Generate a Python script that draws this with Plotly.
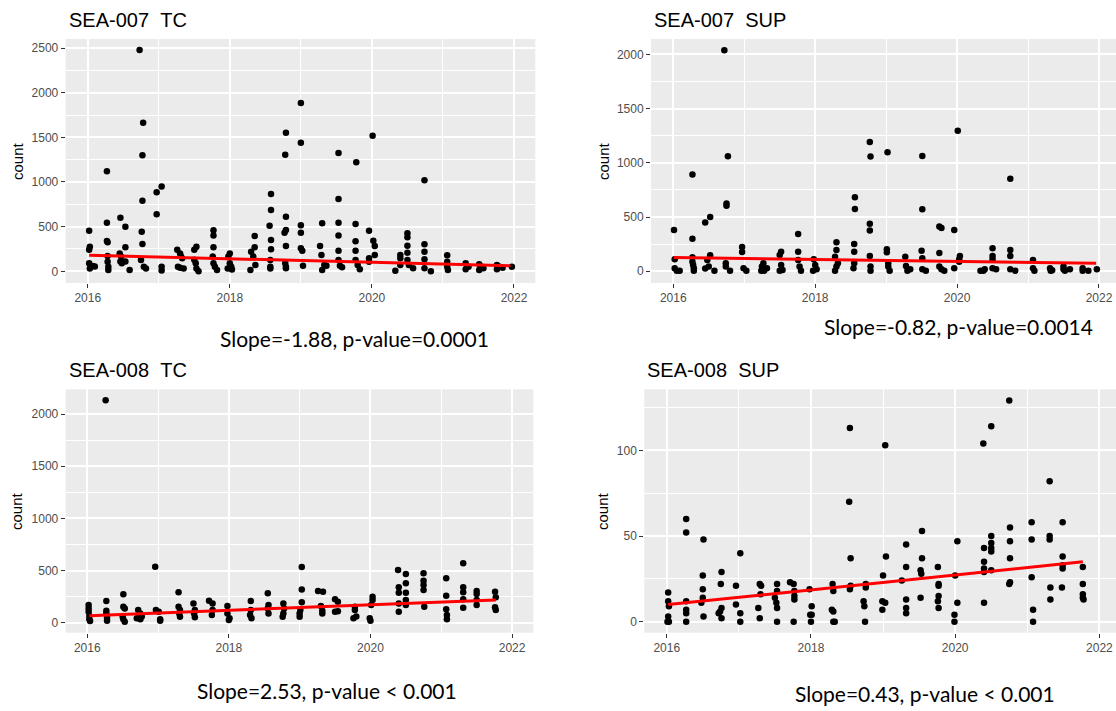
import plotly.graph_objects as go

W, H = 1116, 711

# ---------------- data ----------------
# SEA-007 TC
tc007_x = [2016.02, 2016.03, 2016.02, 2016.02, 2016.03, 2016.10, 2016.07,
           2016.27, 2016.27, 2016.27, 2016.28, 2016.28, 2016.28, 2016.29, 2016.29,
           2016.46, 2016.45, 2016.47, 2016.46, 2016.48, 2016.53, 2016.53, 2016.53, 2016.59,
           2016.73, 2016.78, 2016.77, 2016.77, 2016.76, 2016.77, 2016.75, 2016.79, 2016.82,
           2016.97, 2017.04, 2016.97, 2017.04, 2017.04,
           2017.26, 2017.30, 2017.33, 2017.27, 2017.30, 2017.35, 2017.31,
           2017.50, 2017.53, 2017.52, 2017.53, 2017.56, 2017.50,
           2017.77, 2017.77, 2017.77, 2017.76, 2017.77, 2017.79, 2017.82,
           2018.00, 2017.98, 2018.00, 2018.02, 2017.97, 2018.03,
           2018.35, 2018.35, 2018.30, 2018.33, 2018.36, 2018.29,
           2018.58, 2018.58, 2018.56, 2018.58, 2018.58, 2018.57, 2018.57, 2018.57,
           2018.79, 2018.78, 2018.79, 2018.79, 2018.77, 2018.79, 2018.78, 2018.79, 2018.79,
           2019.00, 2019.00, 2019.00, 2019.00, 2019.00, 2019.02, 2019.03,
           2019.27, 2019.30, 2019.29, 2019.33, 2019.30, 2019.36,
           2019.53, 2019.53, 2019.53, 2019.53, 2019.53, 2019.53, 2019.55, 2019.58,
           2019.78, 2019.77, 2019.77, 2019.77, 2019.77, 2019.80, 2019.83,
           2020.01, 2019.96, 2020.02, 2020.04, 2020.04, 2019.96, 2019.96,
           2020.33, 2020.40, 2020.40, 2020.40,
           2020.50, 2020.50, 2020.50, 2020.50, 2020.50, 2020.52, 2020.58,
           2020.74, 2020.74, 2020.74, 2020.74, 2020.74, 2020.83,
           2021.06, 2021.06, 2021.06, 2021.07,
           2021.32, 2021.34, 2021.32, 2021.36,
           2021.51, 2021.55, 2021.51, 2021.57,
           2021.76, 2021.80, 2021.76, 2021.84,
           2021.97]
tc007_y = [455, 276, 240, 90, 30, 55, 60,
           1120, 545, 340, 325, 170, 108, 52, 15,
           600, 200, 165, 110, 90, 500, 270, 110, 15,
           2477, 1664, 1298, 790, 444, 305, 127, 52, 30,
           884, 950, 640, 52, 10,
           240, 200, 145, 52, 40, 30, 170,
           240, 275, 90, 30, 0, 130,
           460, 400, 270, 165, 90, 52, 15,
           200, 165, 90, 52, 30, 20,
           395, 270, 220, 165, 70, 15,
           865, 686, 511, 350, 246, 127, 52, 30,
           1552, 1306, 612, 463, 432, 283, 90, 52, 34,
           1884, 1440, 515, 433, 257, 231, 63,
           283, 537, 183, 70, 15, 63,
           1325, 810, 545, 400, 231, 127, 63, 45,
           1220, 530, 336, 231, 127, 70, 22,
           1518, 455, 343, 283, 183, 145, 108,
           7, 183, 145, 70,
           425, 380, 287, 209, 127, 70, 34,
           1019, 302, 220, 134, 34, 0,
           179, 108, 52, 15,
           90, 52, 22, 50,
           78, 52, 15, 34,
           70, 52, 22, 40,
           52]
tc007_fit_x = [2016.02, 2021.95]
tc007_fit_y = [179, 63]

# SEA-007 SUP
sup007_x = [2016.01, 2016.02, 2016.02, 2016.09, 2016.05,
            2016.27, 2016.27, 2016.27, 2016.27, 2016.28, 2016.29, 2016.29,
            2016.45, 2016.52, 2016.52, 2016.48, 2016.50, 2016.45, 2016.58,
            2016.72, 2016.77, 2016.75, 2016.75, 2016.74, 2016.74, 2016.80,
            2016.97, 2016.97, 2016.99, 2017.03,
            2017.27, 2017.25, 2017.28, 2017.32, 2017.24,
            2017.52, 2017.50, 2017.52, 2017.54, 2017.50,
            2017.76, 2017.76, 2017.76, 2017.78, 2017.80,
            2017.98, 2018.00, 2018.02, 2017.97,
            2018.30, 2018.30, 2018.28, 2018.32, 2018.30, 2018.28,
            2018.56, 2018.56, 2018.55, 2018.55, 2018.55, 2018.54,
            2018.77, 2018.78, 2018.77, 2018.77, 2018.77, 2018.78, 2018.78,
            2019.02, 2019.01, 2019.01, 2019.03, 2019.03, 2019.05,
            2019.27, 2019.28, 2019.30, 2019.34,
            2019.51, 2019.51, 2019.50, 2019.51, 2019.51, 2019.56,
            2019.75, 2019.78, 2019.75, 2019.75, 2019.78, 2019.82,
            2020.01, 2019.96, 2020.04, 2020.03, 2020.03, 2019.96,
            2020.33, 2020.39, 2020.37,
            2020.50, 2020.50, 2020.50, 2020.50, 2020.55,
            2020.75, 2020.75, 2020.75, 2020.75, 2020.82,
            2021.07, 2021.07, 2021.09,
            2021.31, 2021.32, 2021.34,
            2021.50, 2021.50, 2021.52, 2021.59,
            2021.77, 2021.77, 2021.85,
            2021.97]
sup007_y = [381, 110, 28, 6, 6,
            891, 301, 129, 89, 58, 28, 6,
            449, 501, 147, 104, 43, 25, 6,
            2037, 1060, 624, 605, 74, 43, 6,
            224, 178, 28, 6,
            74, 43, 6, 28, 6,
            181, 150, 58, 12, 6,
            344, 181, 104, 43, 6,
            110, 58, 18, 6,
            267, 197, 135, 74, 43, 6,
            682, 574, 252, 181, 74, 28,
            1192, 1057, 439, 375, 141, 43, 6,
            1097, 203, 175, 74, 43, 6,
            135, 49, 6, 18,
            1063, 571, 190, 120, 18, 6,
            412, 399, 169, 43, 18, 6,
            1296, 381, 141, 110, 89, 28,
            6, 18, 6,
            212, 141, 110, 28, 18,
            854, 197, 141, 18, 6,
            104, 28, 6,
            28, 6, 10,
            43, 18, 6, 18,
            28, 6, 6,
            18]
sup007_fit_x = [2016.01, 2021.96]
sup007_fit_y = [126, 74]

# SEA-008 TC
tc008_x = [2016.02, 2016.02, 2016.02, 2016.03, 2016.03, 2016.04,
           2016.26, 2016.27, 2016.27, 2016.27, 2016.28, 2016.28,
           2016.51, 2016.51, 2016.53, 2016.50, 2016.51, 2016.53,
           2016.72, 2016.75, 2016.70, 2016.75, 2016.77,
           2016.96, 2016.97, 2017.01, 2017.03, 2017.03,
           2017.29, 2017.29, 2017.31, 2017.30, 2017.31,
           2017.50, 2017.52, 2017.51, 2017.52,
           2017.72, 2017.77, 2017.77, 2017.76,
           2017.98, 2017.98, 2018.01, 2018.00,
           2018.31, 2018.31, 2018.30, 2018.32,
           2018.55, 2018.56, 2018.55, 2018.56,
           2018.77, 2018.78, 2018.77, 2018.76,
           2019.03, 2019.03, 2019.03, 2019.01, 2019.00, 2019.00,
           2019.26, 2019.33, 2019.30, 2019.32, 2019.32,
           2019.50, 2019.54, 2019.50, 2019.54,
           2019.78, 2019.78, 2019.76, 2019.80,
           2020.03, 2020.03, 2020.01, 2019.99, 2020.00,
           2020.39, 2020.40, 2020.40, 2020.40, 2020.40,
           2020.50, 2020.50, 2020.50, 2020.50, 2020.50,
           2020.75, 2020.75, 2020.75, 2020.75, 2020.76,
           2021.07, 2021.07, 2021.07, 2021.08, 2021.08,
           2021.31, 2021.31, 2021.31, 2021.31, 2021.31,
           2021.50, 2021.50, 2021.50, 2021.50,
           2021.76, 2021.77, 2021.76, 2021.77]
tc008_y = [169, 137, 105, 64, 32, 16,
           2131, 208, 115, 89, 48, 19,
           272, 153, 137, 58, 32, 10,
           121, 89, 42, 32, 60,
           537, 121, 105, 32, 19,
           291, 153, 121, 89, 58,
           185, 121, 89, 51,
           211, 185, 121, 73,
           160, 89, 42, 26,
           208, 121, 73, 42,
           281, 169, 137, 89,
           185, 137, 89, 58,
           534, 319, 195, 121, 89, 58,
           304, 297, 160, 115, 89,
           224, 201, 105, 110,
           153, 121, 42, 60,
           249, 217, 169, 42, 19,
           505, 339, 288, 185, 105,
           467, 377, 288, 217, 169,
           473, 403, 361, 313, 153,
           425, 259, 128, 73, 32,
           569, 339, 291, 224, 144,
           304, 275, 217, 169,
           297, 243, 147, 121]
tc008_fit_x = [2016.03, 2021.77]
tc008_fit_y = [67, 217]

# SEA-008 SUP
sup008_x = [2016.02, 2016.02, 2016.03, 2016.02, 2016.01, 2016.03,
            2016.27, 2016.27, 2016.27, 2016.27, 2016.27, 2016.27,
            2016.51, 2016.50, 2016.50, 2016.50, 2016.48, 2016.51,
            2016.76, 2016.75, 2016.76, 2016.74, 2016.72, 2016.76,
            2017.02, 2016.96, 2016.96, 2017.02, 2017.02,
            2017.29, 2017.31, 2017.30, 2017.27, 2017.29,
            2017.53, 2017.53, 2017.50, 2017.52, 2017.53, 2017.53,
            2017.71, 2017.76, 2017.77, 2017.77, 2017.76, 2017.77,
            2017.98, 2018.01, 2018.01, 2017.99, 2018.00,
            2018.30, 2018.31, 2018.29, 2018.31, 2018.31, 2018.33,
            2018.54, 2018.53, 2018.55, 2018.55, 2018.54,
            2018.76, 2018.76, 2018.73, 2018.74, 2018.75,
            2019.03, 2019.04, 2019.00, 2018.99, 2019.03, 2018.99,
            2019.32, 2019.32, 2019.26, 2019.32, 2019.32, 2019.32,
            2019.54, 2019.54, 2019.52, 2019.53, 2019.52,
            2019.76, 2019.77, 2019.77, 2019.77, 2019.76, 2019.77,
            2020.03, 2020.00, 2019.99, 2019.99, 2020.03,
            2020.39, 2020.50, 2020.40, 2020.40, 2020.40, 2020.40, 2020.40,
            2020.50, 2020.50, 2020.50, 2020.50, 2020.50,
            2020.75, 2020.76, 2020.76, 2020.76, 2020.76, 2020.75,
            2021.06, 2021.06, 2021.06, 2021.08, 2021.08,
            2021.31, 2021.31, 2021.31, 2021.32, 2021.32,
            2021.49, 2021.49, 2021.49, 2021.49, 2021.48,
            2021.77, 2021.77, 2021.77, 2021.77, 2021.78]
sup008_y = [17, 12, 9, 3, 0, 0,
            60, 52, 12, 7, 5, 0,
            48, 27, 19, 14, 11, 3,
            29, 22, 8, 6, 5, 2,
            40, 21, 10, 5, 0,
            22, 21, 16, 8, 2,
            22, 18, 14, 11, 8, 0,
            23, 22, 18, 13, 0, 15,
            19, 9, 4, 4, 0,
            22, 18, 7, 6, 0, 0,
            113, 70, 37, 21, 19,
            22, 20, 12, 9, 0,
            103, 38, 27, 12, 11, 7,
            45, 32, 24, 13, 8, 5,
            53, 37, 30, 28, 14,
            32, 22, 21, 15, 12, 8,
            47, 27, 4, 0, 11,
            104, 114, 43, 35, 31, 29, 11,
            50, 46, 43, 41, 30,
            129, 55, 47, 37, 23, 22,
            58, 48, 26, 7, 0,
            82, 50, 48, 20, 13,
            58, 38, 33, 31, 20,
            32, 22, 16, 14, 13]
sup008_fit_x = [2016.02, 2021.77]
sup008_fit_y = [10, 35]

titles = ["SEA-007\u00a0\u00a0TC", "SEA-007\u00a0\u00a0SUP", "SEA-008\u00a0\u00a0TC", "SEA-008\u00a0\u00a0SUP"]
captions = ["Slope=-1.88, p-value=0.0001", "Slope=-0.82, p-value=0.0014",
            "Slope=2.53, p-value < 0.001", "Slope=0.43, p-value < 0.001"]
year_ticks = [2016, 2018, 2020, 2022]

# ---------------- layout helpers ----------------
def px_x(x):
    return x / W

def px_y(y):
    return 1 - y / H

panels = [
    dict(x=tc007_x, y=tc007_y, fx=tc007_fit_x, fy=tc007_fit_y, box=(65.7, 39, 535.3, 283),
         xr=[2015.69, 2022.30], yr=[-131, 2601], yt=[0, 500, 1000, 1500, 2000, 2500], ym=250),
    dict(x=sup007_x, y=sup007_y, fx=sup007_fit_x, fy=sup007_fit_y, box=(651, 39, 1116, 283),
         xr=[2015.686, 2022.24], yr=[-108, 2141], yt=[0, 500, 1000, 1500, 2000], ym=250),
    dict(x=tc008_x, y=tc008_y, fx=tc008_fit_x, fy=tc008_fit_y, box=(65.7, 389.3, 533.3, 632.7),
         xr=[2015.696, 2022.30], yr=[-96, 2237], yt=[0, 500, 1000, 1500, 2000], ym=250),
    dict(x=sup008_x, y=sup008_y, fx=sup008_fit_x, fy=sup008_fit_y, box=(644.3, 389.3, 1116, 632.7),
         xr=[2015.689, 2022.23], yr=[-6.4, 135.6], yt=[0, 50, 100], ym=25),
]

fig = go.Figure()
layout = dict(
    width=W, height=H,
    margin=dict(l=0, r=0, t=0, b=0),
    paper_bgcolor="white",
    plot_bgcolor="#EBEBEB",
    showlegend=False,
    font=dict(family="Liberation Sans, Arial, sans-serif"),
)

tickfont = dict(family="Liberation Sans, Arial, sans-serif", size=12, color="#4D4D4D")
annotations = []

for i, p in enumerate(panels):
    n = "" if i == 0 else str(i + 1)
    xa, ya = "x" + n, "y" + n
    l, t, r, b = p["box"]
    fig.add_trace(go.Scatter(x=p["x"], y=p["y"], mode="markers",
                             marker=dict(color="black", size=6.5, line=dict(width=0)),
                             xaxis=xa, yaxis=ya, hoverinfo="x+y"))
    fig.add_trace(go.Scatter(x=p["fx"], y=p["fy"], mode="lines",
                             line=dict(color="#FF0000", width=3),
                             xaxis=xa, yaxis=ya, hoverinfo="skip"))
    layout["xaxis" + n] = dict(
        domain=[px_x(l), px_x(r)], anchor=ya, range=p["xr"],
        tickmode="array", tickvals=year_ticks, ticktext=[str(v) for v in year_ticks],
        ticks="outside", ticklen=4, tickwidth=1, tickcolor="#333333",
        tickfont=tickfont, showline=False, zeroline=False,
        showgrid=True, gridcolor="white", gridwidth=1.8,
        minor=dict(tickmode="linear", tick0=2015, dtick=1, showgrid=True,
                   gridcolor="white", gridwidth=0.8, ticks=""),
        fixedrange=True,
    )
    layout["yaxis" + n] = dict(
        domain=[px_y(b), px_y(t)], anchor=xa, range=p["yr"],
        tickmode="array", tickvals=p["yt"], ticktext=[str(v) for v in p["yt"]],
        ticks="outside", ticklen=4, tickwidth=1, tickcolor="#333333",
        tickfont=tickfont, showline=False, zeroline=False,
        showgrid=True, gridcolor="white", gridwidth=1.8,
        minor=dict(tickmode="linear", tick0=0, dtick=p["ym"], showgrid=True,
                   gridcolor="white", gridwidth=0.8, ticks=""),
        fixedrange=True,
    )
    annotations.append(dict(text=titles[i], x=px_x(l + 1), y=px_y(t - 19), xref="paper", yref="paper",
                            xanchor="left", yanchor="middle", showarrow=False,
                            font=dict(family="Liberation Sans, Arial, sans-serif", size=20, color="black")))
    lab_x = 17 if l < 300 else 603
    annotations.append(dict(text="count", x=px_x(lab_x), y=px_y((t + b) / 2), xref="paper", yref="paper",
                            xanchor="center", yanchor="middle", textangle=-90, showarrow=False,
                            font=dict(family="Liberation Sans, Arial, sans-serif", size=15, color="black")))

caption_pos = [(354, 338), (958, 326), (327, 690), (925, 693)]
for txt, (cx, cy) in zip(captions, caption_pos):
    annotations.append(dict(text=txt, x=px_x(cx), y=px_y(cy), xref="paper", yref="paper",
                            xanchor="center", yanchor="middle", showarrow=False,
                            font=dict(family="Lato, Carlito, sans-serif", size=21, color="black")))

layout["annotations"] = annotations
fig.update_layout(**layout)
fig.write_html("out.html",
               config={"displayModeBar": False},
               post_script="document.body.style.margin='0';document.body.style.padding='0';"
                           "document.body.style.overflow='hidden';")
